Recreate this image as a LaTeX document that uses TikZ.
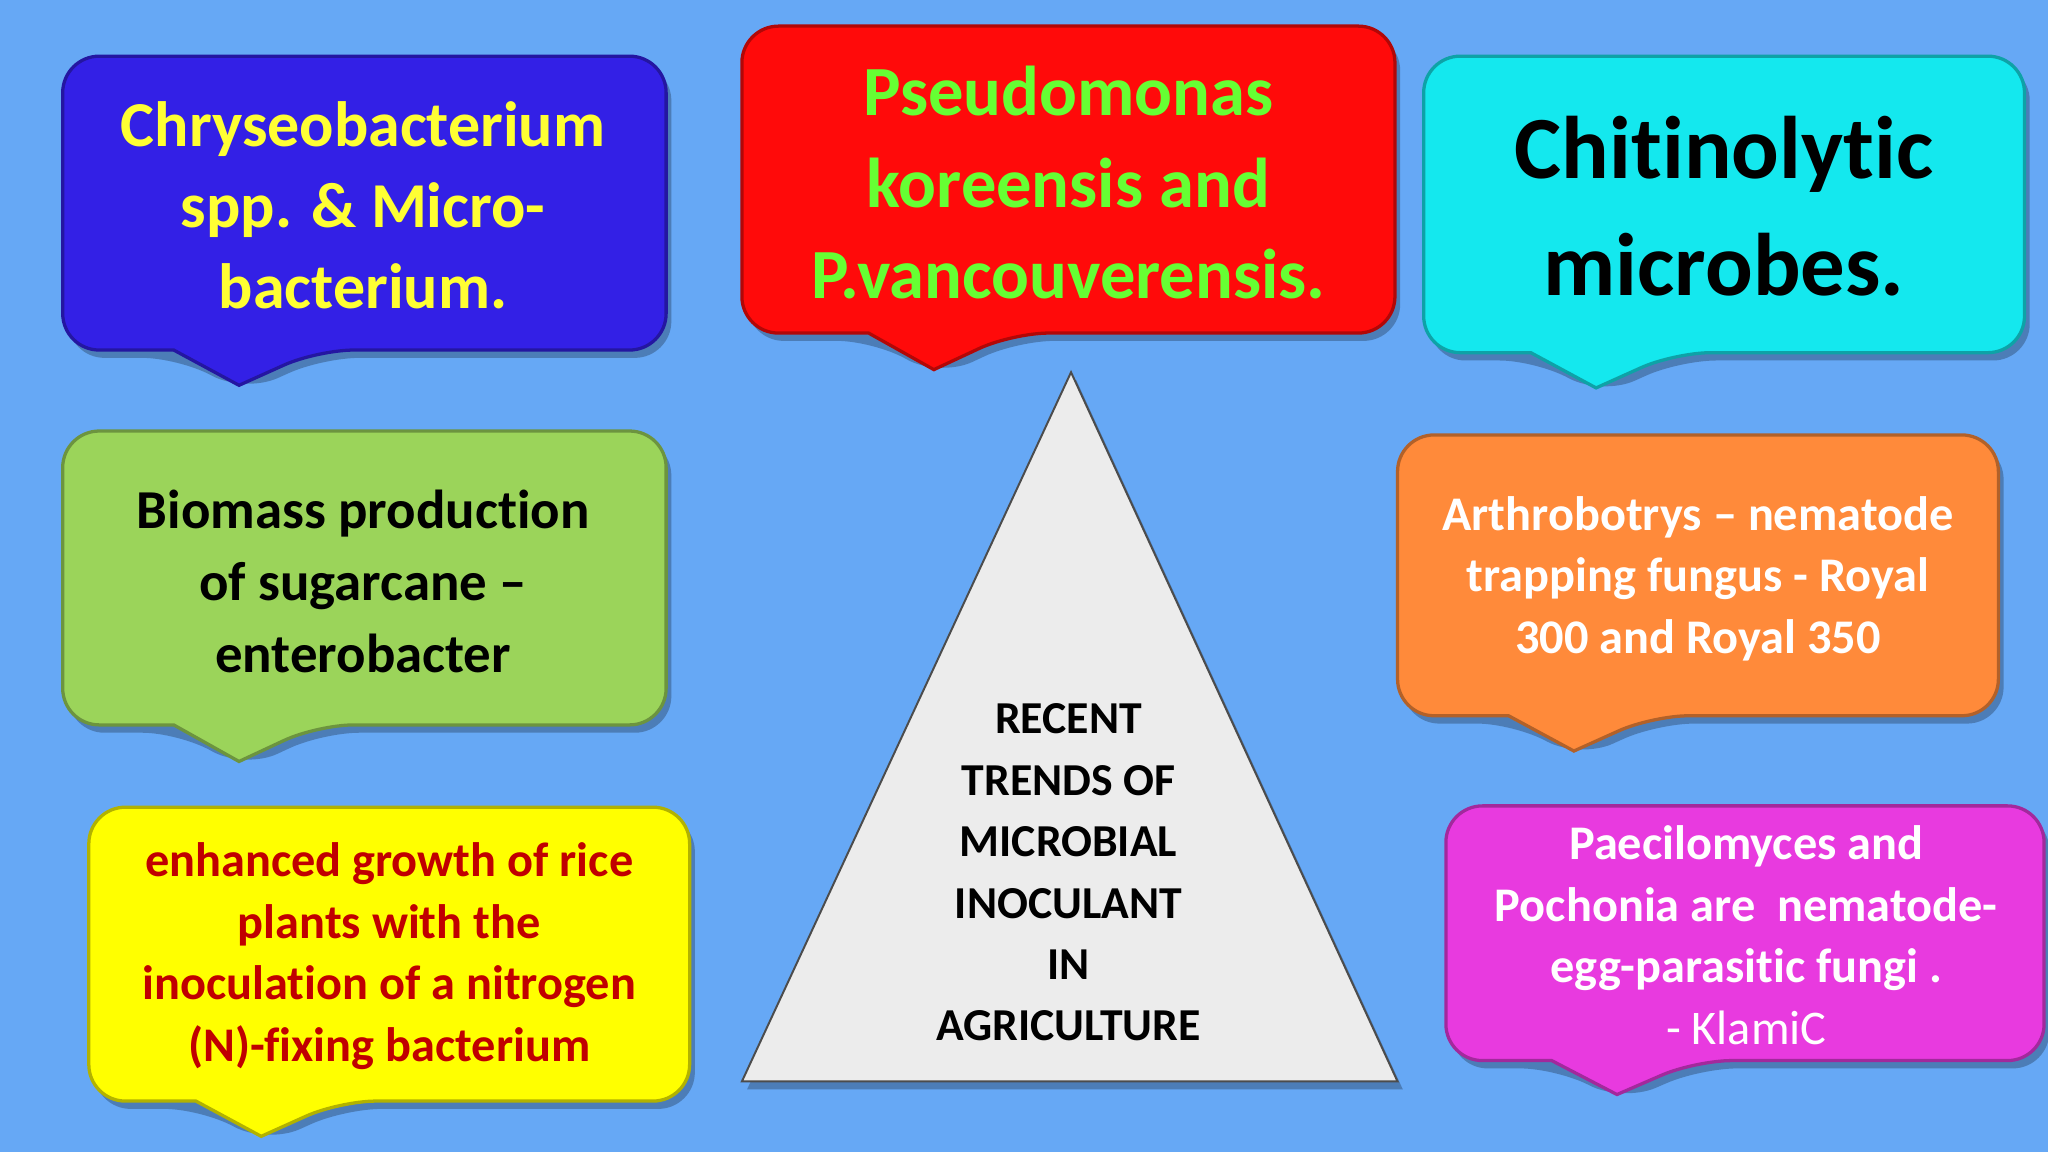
\documentclass[tikz,border=0pt]{standalone}
\usepackage{fontspec}
\setmainfont{Carlito}[Ligatures=NoCommon]
\definecolor{bg}{HTML}{66A8F5}
\definecolor{cblue}{HTML}{3320E6}
\definecolor{cred}{HTML}{FF0A0A}
\definecolor{ccyan}{HTML}{14E8EE}
\definecolor{cgreen}{HTML}{9BD45A}
\definecolor{corange}{HTML}{FF8A3A}
\definecolor{cyellow}{HTML}{FFFF00}
\definecolor{cmag}{HTML}{E83ADF}
\definecolor{tyellow}{HTML}{FFFF33}
\definecolor{tgreen}{HTML}{66FF33}
\definecolor{tred}{HTML}{C00000}
\newcommand\mycallout[8]{%
  \fill[black,opacity=0.25,rounded corners=28pt] (#1+4,#2+6) -- (#3+4,#2+6) -- (#3+4,#4+6) -- (#5+64,#4+6) -- (#5+4,#6+6) -- (#5-46,#4+6) -- (#1+4,#4+6) -- cycle;
  \draw[draw=#7!70!black,line width=2.5pt,fill=#7,rounded corners=28pt] (#1,#2) -- (#3,#2) -- (#3,#4) -- (#5+60,#4) [sharp corners]-- (#5,#6) -- (#5-50,#4) [rounded corners=28pt]-- (#1,#4) -- cycle;
  \node[name=#8] at ({(#1+#3)/2},{(#2+#4)/2}) {};
}
\tikzset{lbl/.style={align=center,font=\bfseries,inner sep=0pt}}
\begin{document}
\begin{tikzpicture}[x=1pt,y=-1pt]
\fill[bg] (0,0) rectangle (1568,882);
\useasboundingbox (0,0) rectangle (1568,882);
\mycallout{48}{43}{510}{268}{183}{295}{cblue}{b1}
\mycallout{568}{20}{1068}{255}{715}{283}{cred}{b2}
\mycallout{1090}{43}{1550}{270}{1222}{297}{ccyan}{b3}
\mycallout{48}{330}{510}{555}{183}{583}{cgreen}{b4}
\mycallout{1070}{333}{1530}{548}{1205}{575}{corange}{b5}
\mycallout{68}{618}{528}{843}{200}{870}{cyellow}{b6}
\mycallout{1107}{617}{1565}{812}{1238}{838}{cmag}{b7}
\fill[black,opacity=0.25] (824,291) -- (1074,834) -- (572,834) -- cycle;
\draw[fill=gray!15,draw=gray!60!black,line width=1.5pt] (820,285) coordinate (apex) -- (1070,828) -- (568,828) -- cycle;
\node[lbl,text=tyellow,font=\bfseries\fontsize{49}{62}\selectfont] at (278,157) {Chryseobacterium\\spp. \& Micro-\\bacterium.};
\node[lbl,text=tgreen,font=\bfseries\fontsize{54}{70}\selectfont] at (818,140) {Pseudomonas\\koreensis and\\P.vancouverensis.};
\node[lbl,text=black,font=\bfseries\fontsize{68}{90}\selectfont] at (1320,158) {Chitinolytic\\microbes.};
\node[lbl,text=black,font=\bfseries\fontsize{42}{55}\selectfont] at (278,445) {Biomass production\\of sugarcane --\\enterobacter};
\node[lbl,text=white,font=\bfseries\fontsize{37}{47}\selectfont] at (1300,443) {Arthrobotrys -- nematode\\trapping fungus - Royal\\300 and Royal 350};
\node[lbl,text=tred,font=\bfseries\fontsize{37}{47}\selectfont] at (298,732) {enhanced growth of rice\\plants with the\\inoculation of a nitrogen\\(N)-fixing bacterium};
\node[lbl,text=white,font=\bfseries\fontsize{37}{47}\selectfont] at (1337,716) {Paecilomyces and\\Pochonia are \ nematode-\\egg-parasitic fungi .\\{\mdseries - KlamiC}};
\node[lbl,text=black,font=\bfseries\fontsize{35}{47}\selectfont] at (818,668) {RECENT\\TRENDS OF\\MICROBIAL\\INOCULANT\\IN\\AGRICULTURE};
\end{tikzpicture}
\end{document}
